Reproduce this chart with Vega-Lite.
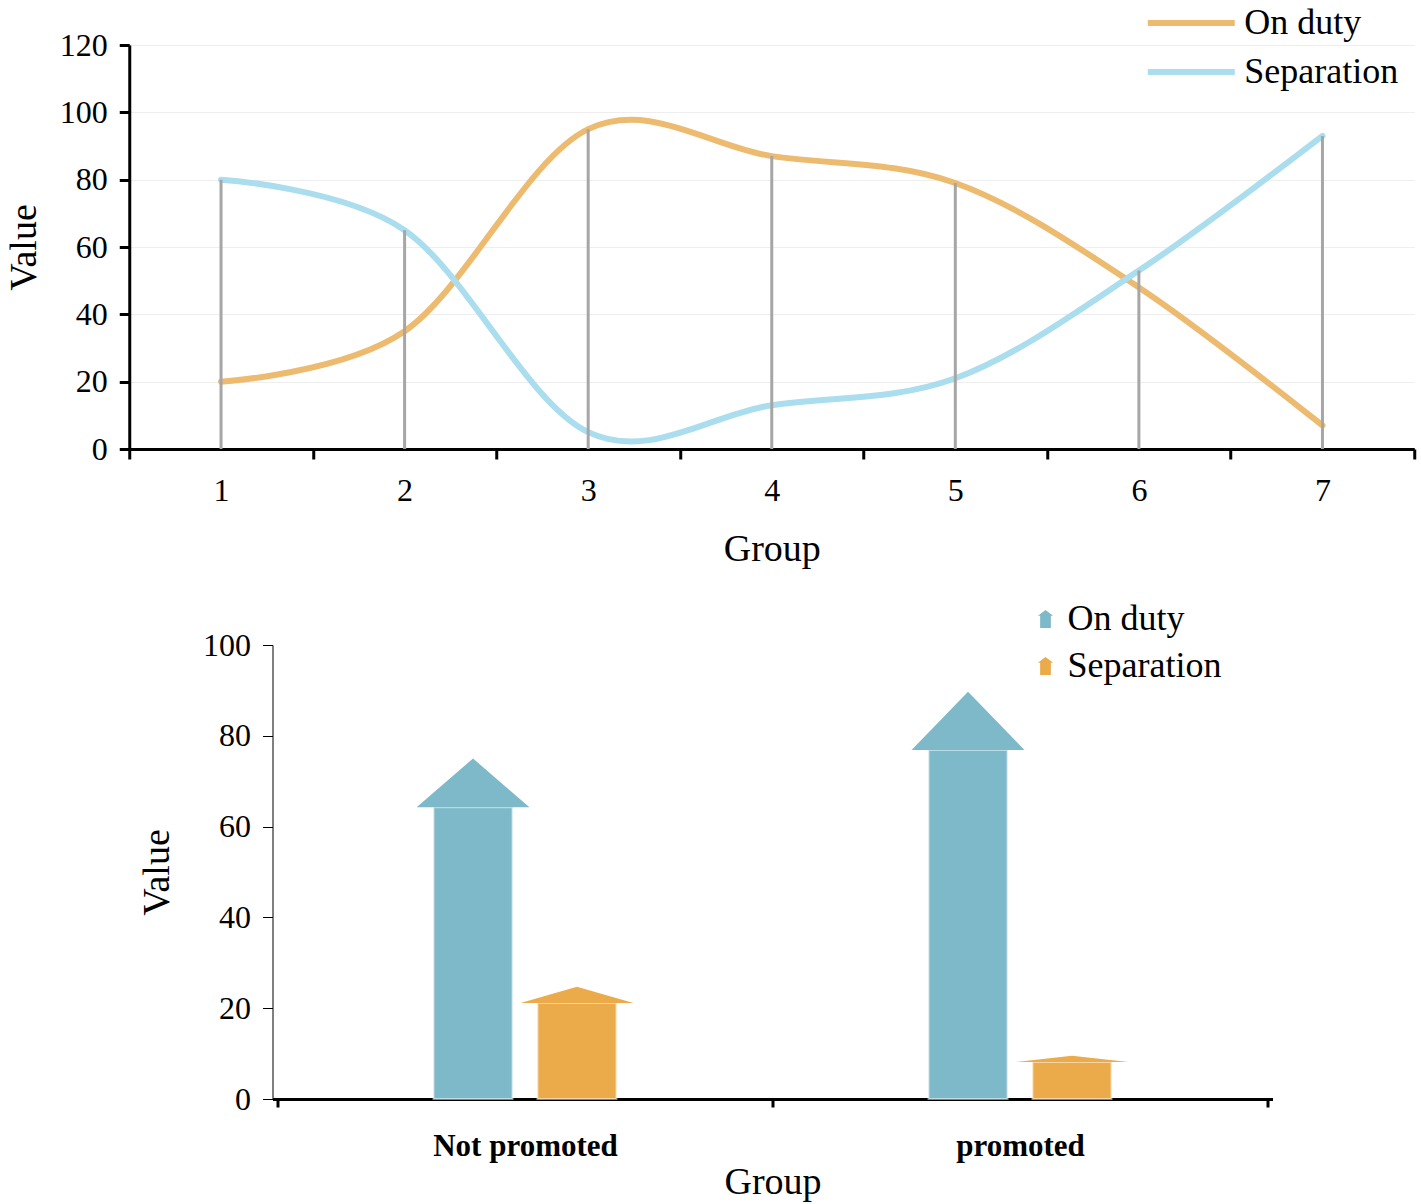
{
  "$schema": "https://vega.github.io/schema/vega-lite/v6.json",
  "padding": 5,
  "center": true,
  "spacing": 33,
  "resolve": {"scale": {"color": "independent"}},
  "config": {
    "font": "Liberation Serif",
    "view": {"stroke": null},
    "axis": {
      "labelFont": "Liberation Serif",
      "titleFont": "Liberation Serif",
      "labelColor": "black",
      "titleColor": "black",
      "domainColor": "black",
      "tickColor": "black",
      "titleFontWeight": "normal",
      "labelLimit": 0
    },
    "legend": {
      "labelFont": "Liberation Serif",
      "labelColor": "black",
      "labelLimit": 0
    }
  },
  "datasets": {
    "trend": [
      {"group": 1, "series": "On duty", "value": 20},
      {"group": 2, "series": "On duty", "value": 35},
      {"group": 3, "series": "On duty", "value": 95},
      {"group": 4, "series": "On duty", "value": 87},
      {"group": 5, "series": "On duty", "value": 79},
      {"group": 6, "series": "On duty", "value": 48},
      {"group": 7, "series": "On duty", "value": 7},
      {"group": 1, "series": "Separation", "value": 80},
      {"group": 2, "series": "Separation", "value": 65},
      {"group": 3, "series": "Separation", "value": 5},
      {"group": 4, "series": "Separation", "value": 13},
      {"group": 5, "series": "Separation", "value": 21},
      {"group": 6, "series": "Separation", "value": 53},
      {"group": 7, "series": "Separation", "value": 93}
    ],
    "promotion": [
      {"group": "Not promoted", "series": "On duty", "value": 75},
      {"group": "Not promoted", "series": "Separation", "value": 24.7},
      {"group": "promoted", "series": "On duty", "value": 89.7},
      {"group": "promoted", "series": "Separation", "value": 9.5}
    ]
  },
  "vconcat": [
    {
      "width": 1285,
      "height": 404,
      "data": {"name": "trend"},
      "encoding": {
        "x": {
          "field": "group",
          "type": "quantitative",
          "title": "Group",
          "scale": {"domain": [0.5, 7.5], "nice": false, "zero": false},
          "axis": {
            "values": [0.5, 1, 1.5, 2, 2.5, 3, 3.5, 4, 4.5, 5, 5.5, 6, 6.5, 7, 7.5],
            "labelExpr": "datum.value % 1 == 0 ? format(datum.value, 'd') : ''",
            "tickOpacity": {"condition": {"test": "datum.value % 1 != 0", "value": 1}, "value": 0},
            "grid": false,
            "domainWidth": 3,
            "tickWidth": 3,
            "tickSize": 10,
            "labelFontSize": 32,
            "labelPadding": 16,
            "labelFlush": false,
            "labelOverlap": false,
            "titleFontSize": 38,
            "titlePadding": 24
          }
        }
      },
      "layer": [
        {
          "mark": {"type": "line", "interpolate": "cardinal", "strokeWidth": 6, "strokeCap": "round"},
          "encoding": {
            "y": {
              "field": "value",
              "type": "quantitative",
              "title": "Value",
              "scale": {"domain": [0, 120], "nice": false},
              "axis": {
                "values": [0, 20, 40, 60, 80, 100, 120],
                "gridColor": "#eeeeee",
                "gridWidth": 1,
                "domainWidth": 3,
                "tickWidth": 3,
                "tickSize": 10,
                "labelFontSize": 32,
                "labelPadding": 12,
                "titleFontSize": 38,
                "titlePadding": 16
              }
            },
            "color": {
              "field": "series",
              "type": "nominal",
              "scale": {"domain": ["On duty", "Separation"], "range": ["#EDBB70", "#AADDEE"]},
              "legend": {
                "title": null,
                "orient": "none",
                "legendX": 1044,
                "legendY": -40,
                "symbolType": "M-3,0H3",
                "symbolSize": 841,
                "symbolStrokeWidth": 6,
                "labelFontSize": 36,
                "labelOffset": 35,
                "rowPadding": 13
              }
            }
          }
        },
        {
          "transform": [
            {"aggregate": [{"op": "max", "field": "value", "as": "peak"}], "groupby": ["group"]},
            {"calculate": "0", "as": "base"}
          ],
          "mark": {"type": "rule", "color": "#A6A6A6", "strokeWidth": 3},
          "encoding": {
            "y": {"field": "base", "type": "quantitative"},
            "y2": {"field": "peak"}
          }
        }
      ]
    },
    {
      "width": 1000,
      "height": 454,
      "data": {"name": "promotion"},
      "transform": [
        {"calculate": "(datum.group == 'Not promoted' ? 0.5 : 1.5) + (datum.series == 'On duty' ? -0.105 : 0.105)", "as": "cx"},
        {"calculate": "datum.value * 0.857", "as": "shaft"}
      ],
      "encoding": {
        "x": {
          "field": "cx",
          "type": "quantitative",
          "title": "Group",
          "scale": {"domain": [0, 2], "nice": false, "zero": false},
          "axis": {
            "values": [0, 0.5, 1, 1.5, 2],
            "labelExpr": "datum.value == 0.5 ? 'Not promoted' : datum.value == 1.5 ? 'promoted' : ''",
            "tickOpacity": {"condition": {"test": "datum.value % 1 == 0", "value": 1}, "value": 0},
            "grid": false,
            "domainWidth": 3,
            "tickWidth": 3,
            "tickSize": 8,
            "labelFontSize": 31,
            "labelFontWeight": "bold",
            "labelPadding": 24,
            "labelFlush": false,
            "labelOverlap": false,
            "titleFontSize": 38,
            "titlePadding": 2
          }
        },
        "color": {
          "field": "series",
          "type": "nominal",
          "scale": {"domain": ["On duty", "Separation"], "range": ["#7DB9C8", "#ECAB4A"]},
          "legend": {
            "title": null,
            "orient": "none",
            "legendX": 755,
            "legendY": -44,
            "symbolType": "M-0.6,1L-0.6,-0.35L-0.85,-0.35L0,-1L0.85,-0.35L0.6,-0.35L0.6,1Z",
            "symbolSize": 320,
            "symbolStrokeWidth": 0,
            "labelFontSize": 36,
            "labelOffset": 4,
            "rowPadding": 11
          }
        }
      },
      "layer": [
        {
          "mark": {"type": "bar", "width": 79, "strokeWidth": 2, "strokeOpacity": 0.5, "stroke": "white"},
          "encoding": {
            "y": {
              "field": "shaft",
              "type": "quantitative",
              "title": "Value",
              "scale": {"domain": [0, 100], "nice": false},
              "axis": {
                "values": [0, 20, 40, 60, 80, 100],
                "grid": false,
                "domainWidth": 1,
                "tickWidth": 1,
                "tickSize": 10,
                "labelFontSize": 32,
                "labelPadding": 12,
                "titleFontSize": 38,
                "titlePadding": 26
              }
            }
          }
        },
        {
          "transform": [
            {"calculate": "[-1, 0, 1]", "as": "k"},
            {"flatten": ["k"]},
            {"calculate": "datum.cx + datum.k * 0.114", "as": "hx"},
            {"calculate": "datum.k == 0 ? datum.value : datum.shaft", "as": "hy"},
            {"calculate": "datum.group + ' ' + datum.series", "as": "arrow"}
          ],
          "mark": {"type": "area", "opacity": 1},
          "encoding": {
            "x": {"field": "hx", "type": "quantitative"},
            "y": {"field": "hy", "type": "quantitative"},
            "y2": {"field": "shaft"},
            "detail": {"field": "arrow", "type": "nominal"}
          }
        }
      ]
    }
  ]
}
